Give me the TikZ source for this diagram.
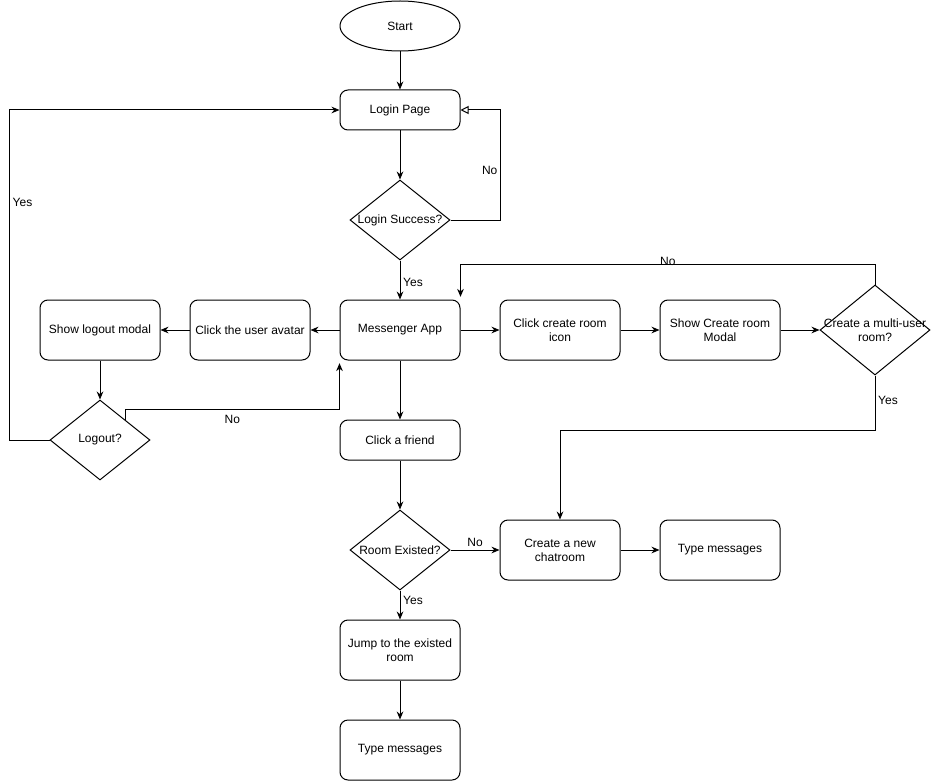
\documentclass[tikz,border=0pt]{standalone}
\usepackage{fontspec}
\setmainfont{Liberation Sans}
\usepackage{tikz}
\usetikzlibrary{arrows.meta, shapes.geometric}

\tikzset{
  txt/.style={font=\fontsize{9}{10.5}\selectfont},
  procbox/.style={txt, draw, rounded corners=6pt, minimum width=90pt, minimum height=45pt, align=center, inner sep=1pt},
  slimbox/.style={procbox, minimum height=30pt},
  decide/.style={txt, draw, diamond, inner sep=-12pt, minimum width=75pt, minimum height=60pt, align=center},
  terminal/.style={txt, draw, ellipse, minimum width=90pt, minimum height=37.5pt},
  lbl/.style={txt, inner sep=2pt}
}

\begin{document}
\begin{tikzpicture}[x=0.75pt, y=-0.75pt, line width=0.75pt, >={Stealth[length=6pt, width=5pt]}]
  \useasboundingbox (0,0) rectangle (931,781);

  % top part
  \node[terminal] (start) at (400,26) {Start};
  \node[slimbox] (login) at (400,110) {Login Page};
  \node[decide] (loginq) at (400,220) {Login Success?};

  % middle row
  \node[procbox] (app) at (400,330) {Messenger App};
  \node[procbox] (avatar) at (250,330) {Click the user avatar};
  \node[procbox] (logoutmodal) at (100,330) {Show logout modal};
  \node[decide] (logoutq) at (100,440) {Logout?};
  \node[procbox] (roomicon) at (560,330) {Click create room\\icon};
  \node[procbox] (roommodal) at (720,330) {Show Create room\\Modal};
  \node[decide, minimum width=82.5pt, minimum height=67.5pt] (multiq) at (875,330) {Create a multi-user\\room?};

  % lower part
  \node[slimbox] (friend) at (400,440) {Click a friend};
  \node[decide] (roomq) at (400,550) {Room Existed?};
  \node[procbox] (newroom) at (560,550) {Create a new\\chatroom};
  \node[procbox] (typeright) at (720,550) {Type messages};
  \node[procbox] (jump) at (400,650) {Jump to the existed\\room};
  \node[procbox] (typebottom) at (400,750) {Type messages};

  % connectors
  \draw[->] (start) -- (login);
  \draw[->] (login) -- (loginq);
  \draw[-{Triangle[open, length=6pt, width=6pt]}] (loginq.east) -- ++(50,0) |- node[lbl, pos=0.227, left] {No} (login.east);
  \draw[->] (loginq) -- node[lbl, right, pos=0.55] {Yes} (app);

  \draw[->] (app) -- (avatar);
  \draw[->] (avatar) -- (logoutmodal);
  \draw[->] (logoutmodal) -- (logoutq);
  \draw[->] (logoutq.west) -- ++(-40,0) |- node[lbl, pos=0.36, right] {Yes} (login.west);
  \draw[->] (logoutq.north east) -- ++(0,-10) -| node[lbl, pos=0.25, below, yshift=-1.5pt] {No} ([yshift=-2pt]app.south west);

  \draw[->] (app) -- (roomicon);
  \draw[->] (roomicon) -- (roommodal);
  \draw[->] (roommodal) -- (multiq);
  \draw[->] (multiq.north) -- ++(0,-20) -| node[lbl, pos=0.25, above, inner sep=0pt, yshift=-1pt] {No} ([yshift=2pt]app.north east);
  \draw[->] (multiq.south) -- node[lbl, pos=0.45, right] {Yes} ++(0,55) -| (newroom.north);

  \draw[->] (app) -- (friend);
  \draw[->] (friend) -- (roomq);
  \draw[->] (roomq) -- node[lbl, above] {No} (newroom);
  \draw[->] (roomq) -- node[lbl, right, pos=0.35] {Yes} (jump);
  \draw[->] (jump) -- (typebottom);
  \draw[->] (newroom) -- (typeright);
\end{tikzpicture}
\end{document}
